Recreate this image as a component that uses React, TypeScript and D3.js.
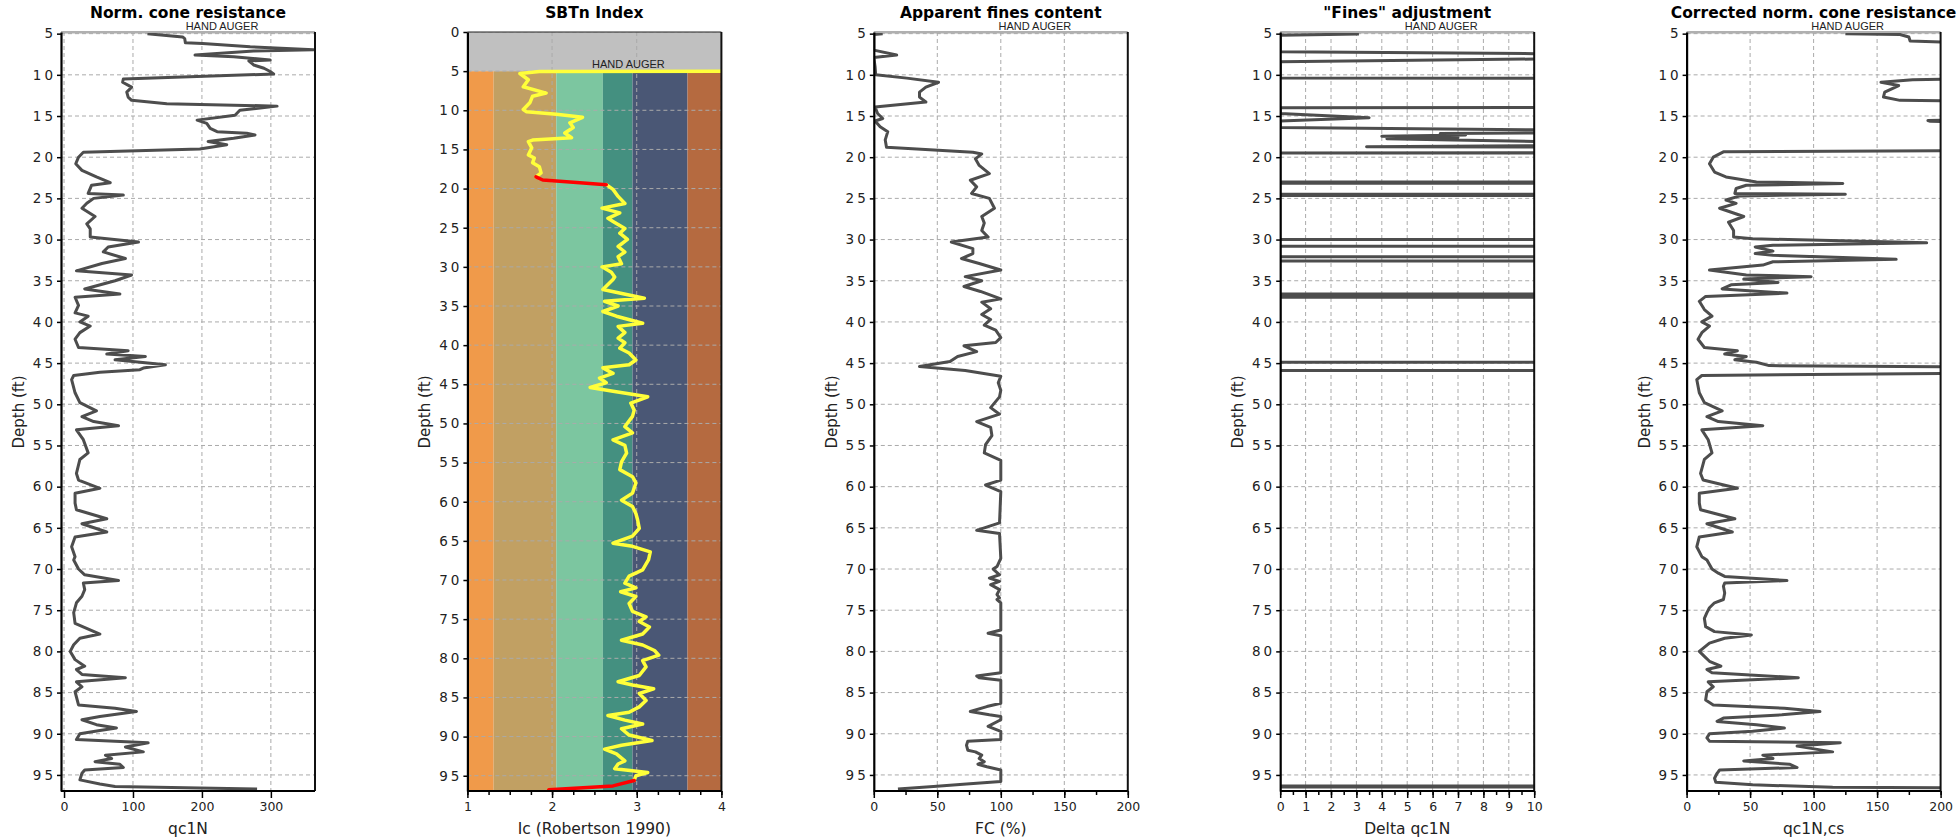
import React, { useEffect, useRef } from 'react';
import * as d3 from 'd3';

type Pt = [number, number]; // [depth (ft), value]

// ---- data ----
const qc1N: Pt[] = [
  [5.0, 121], [5.4, 172], [5.6, 175], [6.1, 176], [6.2, 201], [6.6, 270], [6.95, 362], [7.1, 275],
  [7.6, 190], [7.8, 246], [8.2, 299], [8.3, 268], [8.8, 275], [9.2, 290], [9.6, 299], [9.9, 304],
  [10.5, 86], [10.9, 85], [11.5, 98], [12.1, 91], [12.7, 93], [13.1, 98], [13.5, 149], [13.8, 309],
  [14.3, 255], [14.9, 248], [15.5, 193], [15.9, 207], [16.5, 212], [16.9, 222], [17.1, 265], [17.3, 277],
  [17.7, 246], [18.1, 209], [18.5, 236], [19.0, 197], [19.4, 28], [20.0, 21], [20.8, 17], [21.6, 26],
  [22.4, 47], [23.1, 67], [23.4, 40], [24.4, 35], [24.6, 86], [25.0, 43], [25.6, 33], [26.2, 26],
  [27.2, 45], [28.1, 33], [28.7, 38], [29.7, 38], [30.3, 108], [30.9, 64], [31.5, 57], [32.3, 89],
  [32.9, 55], [33.8, 18], [34.3, 98], [35.0, 74], [36.0, 30], [36.6, 81], [37.0, 16], [38.0, 21],
  [38.9, 16], [39.3, 35], [40.0, 23], [40.5, 38], [41.3, 23], [42.1, 16], [43.1, 21], [43.5, 93],
  [43.9, 62], [44.2, 118], [44.6, 74], [45.2, 147], [45.6, 115], [45.8, 110], [46.1, 52], [46.5, 14],
  [47.0, 11], [48.6, 16], [49.8, 23], [50.8, 47], [51.5, 26], [52.1, 43], [52.6, 79], [53.1, 18],
  [54.3, 28], [55.9, 35], [56.7, 23], [58.4, 18], [59.2, 21], [60.2, 52], [60.8, 16], [62.0, 16],
  [62.8, 18], [63.9, 62], [64.5, 26], [65.5, 62], [66.1, 16], [67.3, 11], [68.5, 16], [68.9, 14],
  [70.0, 21], [70.7, 30], [71.4, 79], [71.7, 28], [72.5, 30], [73.3, 26], [74.1, 18], [75.3, 14],
  [76.6, 16], [77.9, 52], [78.4, 23], [79.2, 14], [80.0, 9], [81.0, 16], [81.8, 30], [82.2, 18],
  [82.8, 26], [83.2, 89], [83.7, 18], [84.3, 26], [84.9, 16], [86.5, 21], [86.9, 74], [87.3, 105],
  [87.9, 52], [88.3, 26], [88.9, 47], [89.3, 76], [89.6, 52], [90.0, 23], [90.7, 18], [91.1, 122],
  [91.6, 89], [92.2, 115], [92.6, 60], [93.0, 69], [93.4, 45], [93.7, 81], [94.1, 86], [94.4, 30],
  [94.8, 26], [95.6, 23], [96.1, 52], [96.4, 74], [96.7, 280],
];

const icRobertson: Pt[] = [
  [5.0, 4.3], [5.05, 1.85], [5.3, 1.62], [6.1, 1.72], [7.0, 1.66], [7.8, 1.93], [8.2, 1.77], [9.0, 1.74],
  [9.9, 1.66], [10.2, 1.7], [10.5, 2.05], [10.9, 2.36], [11.6, 2.21], [12.2, 2.25], [12.9, 2.15], [13.5, 2.23],
  [13.8, 1.77], [14.0, 1.72], [14.8, 1.76], [15.7, 1.72], [16.1, 1.79], [16.7, 1.77], [17.2, 1.85], [18.0, 1.87],
  [18.5, 1.81], [18.9, 1.89], [19.2, 2.25], [19.5, 2.64], [20.1, 2.72], [21.0, 2.78], [21.9, 2.86], [22.5, 2.59],
  [23.1, 2.8], [23.8, 2.66], [24.2, 2.72], [25.1, 2.86], [25.7, 2.8], [26.5, 2.89], [27.4, 2.78], [28.1, 2.86],
  [28.7, 2.78], [29.6, 2.82], [30.0, 2.59], [30.7, 2.7], [31.3, 2.74], [31.6, 2.72], [32.9, 2.6], [34.0, 3.09],
  [34.4, 2.62], [35.0, 2.78], [35.7, 2.6], [36.3, 2.76], [37.2, 3.07], [37.6, 2.78], [38.4, 2.86], [39.1, 2.78],
  [39.7, 2.86], [40.4, 2.8], [41.0, 2.91], [41.9, 2.99], [42.5, 2.91], [42.9, 2.6], [43.6, 2.72], [44.2, 2.56],
  [44.8, 2.64], [45.4, 2.45], [45.9, 2.72], [46.6, 3.13], [47.4, 2.93], [48.3, 2.97], [49.1, 2.95], [50.4, 2.86],
  [51.2, 2.95], [52.1, 2.72], [52.8, 2.86], [53.8, 2.88], [54.9, 2.82], [55.9, 2.8], [56.8, 2.95], [57.6, 2.99],
  [58.9, 2.95], [59.8, 2.82], [60.6, 2.95], [61.5, 2.99], [62.3, 3.01], [63.4, 3.03], [64.4, 2.95], [65.3, 2.72],
  [65.7, 2.95], [66.4, 3.16], [67.4, 3.14], [68.7, 3.07], [69.5, 2.91], [70.4, 2.86], [71.0, 2.99], [71.5, 2.81],
  [72.1, 2.99], [73.0, 2.91], [74.0, 2.95], [74.7, 3.11], [75.3, 3.03], [76.0, 3.15], [76.9, 3.07], [77.7, 2.82],
  [78.3, 3.07], [79.0, 3.21], [79.6, 3.26], [80.3, 3.07], [81.1, 3.11], [82.2, 3.03], [83.0, 2.78], [83.4, 2.95],
  [83.9, 3.2], [84.5, 3.03], [85.4, 3.11], [86.2, 3.03], [86.9, 2.91], [87.3, 2.66], [87.9, 2.86], [88.4, 3.07],
  [89.0, 2.82], [89.8, 2.91], [90.5, 3.18], [91.1, 2.82], [91.6, 2.62], [92.2, 2.76], [93.1, 2.86], [93.5, 2.78],
  [94.1, 2.74], [94.6, 3.13], [95.0, 2.99], [95.6, 2.97], [96.3, 2.72], [96.8, 1.96],
];

// depth ranges flagged as transition layers (drawn red)
const transitionZones: Pt[] = [[18.5, 19.5], [95.6, 96.8]];

const finesContent: Pt[] = [
  [5.0, 7], [5.1, 0], [7.0, 0], [7.6, 18], [7.9, 0], [9.0, 1], [10.0, 1.5], [10.4, 26], [10.9, 51],
  [11.5, 41], [12.1, 36], [12.7, 36], [13.3, 41], [13.9, 1], [14.7, 3], [15.3, 7], [15.6, 1], [16.3, 5],
  [16.9, 11], [17.9, 9], [18.8, 10], [19.4, 78], [19.6, 85], [20.2, 80], [21.0, 83], [22.0, 91], [22.8, 76],
  [23.6, 81], [24.4, 77], [25.0, 91], [26.2, 95], [27.2, 85], [28.0, 87], [28.9, 85], [29.7, 90], [30.3, 61],
  [31.1, 78], [31.7, 78], [32.3, 69], [32.9, 83], [33.7, 100], [34.5, 72], [35.0, 85], [35.7, 71], [36.3, 84],
  [37.2, 100], [37.6, 85], [38.4, 92], [39.1, 85], [39.7, 92], [40.4, 87], [41.0, 96], [41.9, 100], [42.5, 96],
  [42.9, 71], [43.6, 81], [44.2, 66], [44.8, 60], [45.4, 36], [45.9, 72], [46.6, 100], [47.4, 98], [48.3, 100],
  [49.1, 99], [50.4, 92], [51.2, 99], [52.1, 81], [52.8, 92], [53.8, 93], [54.9, 88], [55.9, 87], [56.8, 100],
  [59.2, 100], [59.8, 88], [60.6, 100], [64.4, 99], [65.3, 81], [65.7, 99], [68.7, 100], [69.7, 97], [70.0, 94],
  [70.7, 99], [71.1, 91], [71.5, 99], [71.9, 92], [72.5, 99], [73.1, 97], [73.5, 99], [73.7, 97], [74.1, 100],
  [77.4, 100], [77.8, 90], [78.1, 100], [82.6, 100], [83.0, 81], [83.2, 83], [83.5, 100], [86.3, 100], [86.7, 89],
  [87.3, 76], [87.7, 91], [87.9, 100], [88.3, 100], [89.1, 90], [89.7, 100], [90.7, 100], [90.9, 74], [91.4, 73],
  [92.0, 74], [92.2, 80], [92.6, 85], [93.0, 83], [93.4, 87], [93.7, 82], [94.0, 89], [94.4, 100], [95.8, 100],
  [96.1, 73], [96.4, 47], [96.7, 19],
];

const deltaQc1N: Pt[] = [
  [5.05, 3.1], [5.2, 0], [7.2, 0], [7.45, 11], [8.05, 11], [8.4, 0], [10.38, 0], [10.42, 11], [13.96, 11],
  [14.0, 0], [14.7, 0], [15.2, 3.5], [15.6, 0], [16.4, 0], [16.7, 11], [17.05, 11], [17.12, 6.3], [17.3, 7.3],
  [17.45, 4.0], [17.6, 7.0], [17.75, 4.2], [17.9, 6.8], [18.15, 11], [18.6, 11], [18.72, 3.4], [18.76, 11],
  [19.45, 11], [19.48, -1], [19.52, 60],
  [22.99, 60], [23.0, -1], [23.15, -1], [23.16, 60],
  [24.49, 60], [24.5, -1], [24.65, -1], [24.66, 60],
  [29.99, 60], [30.0, -1], [30.01, 60], [30.79, 60], [30.8, -1], [30.81, 60],
  [32.09, 60], [32.1, -1], [32.11, 60], [32.59, 60], [32.6, -1], [32.61, 60],
  [36.59, 60], [36.6, -1], [36.61, 60], [36.84, 60], [36.85, -1], [37.0, -1], [37.01, 60],
  [44.89, 60], [44.9, -1], [44.91, 60], [45.89, 60], [45.9, -1], [45.91, 60],
  [96.34, 60], [96.35, -1], [96.45, -1], [96.46, 60], [96.9, 60],
];

const qc1Ncs: Pt[] = [
  [5.0, 125], [5.1, 168], [5.4, 175], [5.9, 176], [6.2, 240], [10.45, 240], [10.6, 178], [10.9, 153],
  [11.3, 167], [12.1, 156], [12.7, 155], [13.1, 168], [13.2, 240], [15.45, 240], [15.55, 190], [15.65, 192],
  [15.7, 240], [19.2, 240], [19.35, 29], [20.0, 21], [20.8, 18], [21.8, 22], [22.4, 31], [23.0, 55],
  [23.2, 123], [23.4, 47], [23.8, 39], [24.4, 38], [24.5, 125], [24.7, 42], [25.2, 31], [25.6, 39],
  [26.2, 26], [27.2, 45], [27.9, 33], [28.9, 37], [29.7, 37], [29.9, 52], [30.4, 189], [30.7, 68],
  [30.9, 54], [31.4, 68], [31.7, 54], [31.9, 68], [32.4, 165], [32.7, 68], [33.1, 60], [33.7, 18],
  [34.3, 47], [34.5, 98], [34.8, 45], [35.2, 72], [35.5, 35], [36.0, 28], [36.5, 79], [36.9, 15],
  [37.5, 10], [38.5, 14], [39.3, 20], [40.0, 12], [40.5, 18], [41.3, 12], [42.1, 9], [43.1, 14],
  [43.5, 40], [43.9, 30], [44.2, 47], [44.6, 38], [44.9, 55], [45.3, 65], [45.5, 240], [46.2, 240],
  [46.5, 12], [47.0, 8], [48.6, 10], [49.8, 14], [50.8, 28], [51.5, 16], [52.1, 25], [52.6, 60],
  [53.1, 12], [54.3, 17], [55.9, 20], [56.7, 14], [58.4, 11], [59.2, 13], [60.2, 40], [60.8, 10],
  [62.0, 10], [62.8, 11], [63.9, 38], [64.5, 16], [65.5, 36], [66.1, 10], [67.3, 8], [68.5, 12],
  [68.9, 16], [70.0, 20], [70.5, 25], [70.9, 30], [71.4, 79], [71.7, 30], [72.1, 29], [72.9, 30],
  [73.7, 29], [74.1, 22], [74.7, 18], [75.3, 16], [76.0, 14], [77.0, 15], [77.6, 22], [78.0, 51],
  [78.4, 30], [79.0, 18], [80.0, 10], [80.6, 14], [81.2, 18], [81.8, 27], [82.2, 16], [82.6, 20],
  [83.2, 88], [83.7, 17], [84.3, 21], [84.9, 16], [85.9, 15], [86.5, 21], [86.9, 77], [87.3, 105],
  [87.7, 75], [88.1, 29], [88.5, 24], [88.9, 55], [89.3, 77], [89.7, 52], [90.0, 18], [90.5, 16],
  [90.9, 18], [91.1, 121], [91.5, 87], [92.2, 115], [92.6, 60], [93.0, 68], [93.3, 45], [93.7, 81],
  [94.1, 87], [94.4, 26], [94.8, 24], [95.4, 22], [95.9, 23], [96.2, 52], [96.5, 115], [96.6, 260],
];

// SBTn zone boundaries on the Ic axis and their fills
const sbtZoneBounds = [1, 1.31, 2.05, 2.6, 2.95, 3.6, 4];
const sbtZoneColors = ['#f09a4a', '#c1a063', '#7cc6a0', '#449080', '#4a5775', '#b56a40'];
const handAugerDepth = 5;

// ---- layout ----
const PLOT_TOP = 32;
const PLOT_BOTTOM = 791;
const PLOT_W = 254;
const PANEL_LEFT0 = 61;
const PANEL_STEP = 406.4;
const FONT = '"DejaVu Sans", Verdana, sans-serif';

const ticksFrom5 = d3.range(5, 96, 5);
const ticksFrom0 = d3.range(0, 96, 5);

const panels = [
  { title: 'Norm. cone resistance', xLabel: 'qc1N', xDomain: [-4.4, 364], xTicks: [0, 100, 200, 300], xMinor: [],
    yDomain: [4.8, 96.95], yTicks: ticksFrom5, data: qc1N, kind: 'line' },
  { title: 'SBTn Index', xLabel: 'Ic (Robertson 1990)', xDomain: [1, 4], xTicks: [1, 2, 3, 4], xMinor: d3.range(1, 4.01, 0.25),
    yDomain: [0, 96.95], yTicks: ticksFrom0, data: icRobertson, kind: 'sbt' },
  { title: 'Apparent fines content', xLabel: 'FC (%)', xDomain: [0, 200], xTicks: [0, 50, 100, 150, 200], xMinor: d3.range(0, 201, 25),
    yDomain: [4.8, 96.95], yTicks: ticksFrom5, data: finesContent, kind: 'line' },
  { title: '"Fines" adjustment', xLabel: 'Delta qc1N', xDomain: [0, 10], xTicks: d3.range(0, 11, 1), xMinor: d3.range(0, 10.01, 0.5),
    yDomain: [4.8, 96.95], yTicks: ticksFrom5, data: deltaQc1N, kind: 'line' },
  { title: 'Corrected norm. cone resistance', xLabel: 'qc1N,cs', xDomain: [0, 200], xTicks: [0, 50, 100, 150, 200], xMinor: d3.range(0, 201, 25),
    yDomain: [4.8, 96.95], yTicks: ticksFrom5, data: qc1Ncs, kind: 'line' },
];

function drawPanel(svg: any, p: any, i: number) {
  const left = PANEL_LEFT0 + i * PANEL_STEP;
  const right = left + PLOT_W;
  const x = d3.scaleLinear().domain(p.xDomain).range([left, right]);
  const y = d3.scaleLinear().domain(p.yDomain).range([PLOT_TOP, PLOT_BOTTOM]);
  const cx = left + PLOT_W / 2;

  const g = svg.append('g');
  const clipId = 'plot-clip-' + i;
  g.append('clipPath').attr('id', clipId)
    .append('rect').attr('x', left).attr('y', PLOT_TOP).attr('width', PLOT_W).attr('height', PLOT_BOTTOM - PLOT_TOP);
  const plot = g.append('g').attr('clip-path', `url(#${clipId})`);

  if (p.kind === 'sbt') {
    plot.selectAll('rect.zone')
      .data(sbtZoneColors)
      .enter()
      .append('rect')
      .attr('x', (d: string, k: number) => x(sbtZoneBounds[k]))
      .attr('width', (d: string, k: number) => x(sbtZoneBounds[k + 1]) - x(sbtZoneBounds[k]))
      .attr('y', y(handAugerDepth))
      .attr('height', PLOT_BOTTOM - y(handAugerDepth))
      .attr('fill', (d: string) => d);
  }
  // hand auger interval
  plot.append('rect')
    .attr('x', left).attr('width', PLOT_W)
    .attr('y', y(0)).attr('height', y(handAugerDepth) - y(0))
    .attr('fill', '#c0c0c0');

  // grid
  const gridColor = '#aaaaaa';
  plot.selectAll('line.gx').data(p.xTicks).enter().append('line')
    .attr('x1', (d: number) => x(d)).attr('x2', (d: number) => x(d))
    .attr('y1', PLOT_TOP).attr('y2', PLOT_BOTTOM)
    .attr('stroke', gridColor).attr('stroke-width', 1).attr('stroke-dasharray', '4,3');
  plot.selectAll('line.gy').data(p.yTicks).enter().append('line')
    .attr('x1', left).attr('x2', right)
    .attr('y1', (d: number) => y(d)).attr('y2', (d: number) => y(d))
    .attr('stroke', gridColor).attr('stroke-width', 1).attr('stroke-dasharray', '4,3');

  // traces
  if (p.kind === 'sbt') {
    const inZone = (d: Pt) => transitionZones.some(z => d[0] >= z[0] && d[0] <= z[1]);
    const insideZone = (d: Pt) => transitionZones.some(z => d[0] > z[0] && d[0] < z[1]);
    plot.append('path').datum(p.data)
      .attr('d', d3.line<Pt>().defined(d => !insideZone(d)).x(d => x(d[1])).y(d => y(d[0])))
      .attr('fill', 'none').attr('stroke', '#ffff3a').attr('stroke-width', 3.5)
      .attr('stroke-linejoin', 'round').attr('stroke-linecap', 'round');
    plot.append('path').datum(p.data)
      .attr('d', d3.line<Pt>().defined(d => inZone(d)).x(d => x(d[1])).y(d => y(d[0])))
      .attr('fill', 'none').attr('stroke', '#ff0000').attr('stroke-width', 3.5)
      .attr('stroke-linejoin', 'round').attr('stroke-linecap', 'round');
  } else {
    plot.append('path').datum(p.data)
      .attr('d', d3.line<Pt>().x(d => x(d[1])).y(d => y(d[0])))
      .attr('fill', 'none').attr('stroke', '#4d4d4d').attr('stroke-width', 3)
      .attr('stroke-linejoin', 'round');
  }

  // frame
  g.append('line').attr('x1', left).attr('x2', right).attr('y1', PLOT_TOP).attr('y2', PLOT_TOP)
    .attr('stroke', p.kind === 'sbt' ? '#222' : '#b0b0b0').attr('stroke-width', p.kind === 'sbt' ? 1 : 2);
  g.append('line').attr('x1', right).attr('x2', right).attr('y1', PLOT_TOP).attr('y2', PLOT_BOTTOM)
    .attr('stroke', '#111').attr('stroke-width', 2);

  // left axis
  const yAxis = g.append('g').attr('transform', `translate(${left},0)`)
    .call(d3.axisLeft(y).tickValues(p.yTicks).tickSize(4).tickSizeOuter(0).tickPadding(1));
  yAxis.select('.domain').attr('stroke', '#000').attr('stroke-width', 2.2);
  yAxis.selectAll('.tick line').attr('stroke', '#000').attr('stroke-width', 1.5);
  yAxis.selectAll('.tick text').attr('font-family', FONT).attr('font-size', 13.5).attr('letter-spacing', 3)
    .attr('fill', '#222');

  // bottom axis
  const xMinor = g.append('g').attr('transform', `translate(0,${PLOT_BOTTOM})`)
    .call(d3.axisBottom(x).tickValues(p.xMinor).tickSize(4).tickSizeOuter(0).tickFormat(() => ''));
  xMinor.select('.domain').remove();
  xMinor.selectAll('.tick line').attr('stroke', '#000').attr('stroke-width', 1.5);
  const xAxis = g.append('g').attr('transform', `translate(0,${PLOT_BOTTOM})`)
    .call(d3.axisBottom(x).tickValues(p.xTicks).tickSize(7).tickSizeOuter(0).tickPadding(4).tickFormat(d3.format('d')));
  xAxis.select('.domain').attr('stroke', '#000').attr('stroke-width', 2.2)
    .attr('d', `M${left},0H${right}`);
  xAxis.selectAll('.tick line').attr('stroke', '#000').attr('stroke-width', 1.5);
  xAxis.selectAll('.tick text').attr('font-family', FONT).attr('font-size', 12.5).attr('fill', '#222');

  // labels
  g.append('text').attr('x', cx).attr('y', 18).attr('text-anchor', 'middle')
    .attr('font-family', FONT).attr('font-weight', 'bold').attr('font-size', 15.5).attr('fill', '#000')
    .text(p.title);
  g.append('text').attr('x', cx).attr('y', 834).attr('text-anchor', 'middle')
    .attr('font-family', FONT).attr('font-size', 15.5).attr('fill', '#222')
    .text(p.xLabel);
  g.append('text').attr('transform', `translate(${left - 37},412) rotate(-90)`).attr('text-anchor', 'middle')
    .attr('font-family', FONT).attr('font-size', 15).attr('fill', '#222')
    .text('Depth (ft)');
  g.append('text').attr('x', left + 0.634 * PLOT_W).attr('y', y(4.6)).attr('text-anchor', 'middle')
    .attr('font-family', '"Liberation Sans", Arial, sans-serif').attr('font-size', 11).attr('fill', '#222')
    .text('HAND AUGER');
}

export default function App() {
  const ref = useRef<SVGSVGElement>(null);

  useEffect(() => {
    const svg = d3.select(ref.current);
    svg.selectAll('*').remove();
    panels.forEach((p, i) => drawPanel(svg, p, i));
  }, []);

  return (
    <svg ref={ref} width={1957} height={840}
      style={{ position: 'absolute', left: 0, top: 0, background: '#fff', display: 'block' }} />
  );
}
